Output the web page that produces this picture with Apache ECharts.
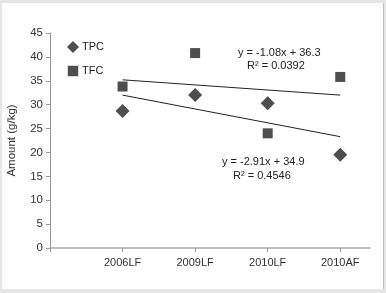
<!DOCTYPE html>
<html>
<head>
<meta charset="utf-8">
<script src="https://cdn.jsdelivr.net/npm/echarts@6/dist/echarts.min.js"></script>
<style>
  html, body { margin: 0; padding: 0; background: #e6e6e6; }
  #chart { position: absolute; left: 2px; top: 3px; width: 381px; height: 286px; background: #fff; border-right: 1px solid #bdbdbd; }
</style>
</head>
<body>
<div id="chart"></div>
<script>
var categories = ['2006LF', '2009LF', '2010LF', '2010AF'];
var tpcValues = [28.7, 32.0, 30.3, 19.5];
var tfcValues = [33.8, 40.8, 24.0, 35.8];
// trend line end points (at first and last category)
var tpcTrend = [32.0, 23.3];
var tfcTrend = [35.2, 32.0];
var yTicks = [0, 5, 10, 15, 20, 25, 30, 35, 40, 45];

var font = '"Liberation Sans", Arial, sans-serif';

function pts(vals) {
  return vals.map(function (v, i) { return [i + 1, v]; });
}

var myChart = echarts.init(document.getElementById('chart'));
var option = {
  animation: false,
  textStyle: { fontFamily: font },
  grid: { left: 48, right: 13, top: 30, bottom: 41, containLabel: false, outerBoundsMode: 'none' },
  xAxis: {
    type: 'value',
    min: 0,
    max: 4.41,
    interval: 1,
    splitLine: { show: false },
    axisLine: { lineStyle: { color: '#aaa', width: 1.5 } },
    axisTick: { show: true, length: 4, lineStyle: { color: '#999' } },
    axisLabel: {
      color: '#333', fontSize: 11, fontFamily: font, margin: 9,
      showMaxLabel: false,
      formatter: function (v) { return categories[v - 1] || ''; }
    }
  },
  yAxis: {
    type: 'value',
    min: yTicks[0],
    max: yTicks[yTicks.length - 1],
    interval: 5,
    name: 'Amount (g/kg)',
    nameLocation: 'middle',
    nameGap: 32,
    nameTextStyle: { color: '#333', fontSize: 11.5, fontFamily: font },
    splitLine: { show: false },
    axisLine: { show: true, lineStyle: { color: '#999' } },
    axisTick: { show: true, length: 4, lineStyle: { color: '#999' } },
    axisLabel: { color: '#333', fontSize: 11.5, fontFamily: font, margin: 7 }
  },
  legend: {
    orient: 'vertical',
    left: 59,
    top: 33,
    itemGap: 11,
    itemWidth: 12,
    itemHeight: 12,
    textStyle: { color: '#222', fontSize: 11, fontFamily: font, padding: [0, 0, 0, -2] },
    data: [
      { name: 'TPC', icon: 'diamond' },
      { name: 'TFC', icon: 'rect', itemStyle: { borderWidth: 2, borderColor: '#fff' } }
    ]
  },
  series: [
    {
      name: 'TPC', type: 'scatter', symbol: 'diamond', symbolSize: 14,
      itemStyle: { color: '#222' }, data: pts(tpcValues)
    },
    {
      name: 'TFC', type: 'scatter', symbol: 'rect', symbolSize: 10,
      itemStyle: { color: '#222' }, data: pts(tfcValues)
    },
    {
      type: 'line', symbol: 'none', silent: true,
      lineStyle: { color: '#222', width: 1 },
      data: [[1, tpcTrend[0]], [categories.length, tpcTrend[1]]]
    },
    {
      type: 'line', symbol: 'none', silent: true,
      lineStyle: { color: '#222', width: 1 },
      data: [[1, tfcTrend[0]], [categories.length, tfcTrend[1]]]
    }
  ],
  graphic: [
    { type: 'text', left: 236, top: 44, style: { text: 'y = -1.08x + 36.3', fill: '#222', font: '11px ' + font } },
    { type: 'text', left: 245, top: 57, style: { text: 'R² = 0.0392', fill: '#222', font: '11px ' + font } },
    { type: 'text', left: 220, top: 153, style: { text: 'y = -2.91x + 34.9', fill: '#222', font: '11px ' + font } },
    { type: 'text', left: 231, top: 167, style: { text: 'R² = 0.4546', fill: '#222', font: '11px ' + font } }
  ]
};
myChart.setOption(option);
</script>
</body>
</html>
